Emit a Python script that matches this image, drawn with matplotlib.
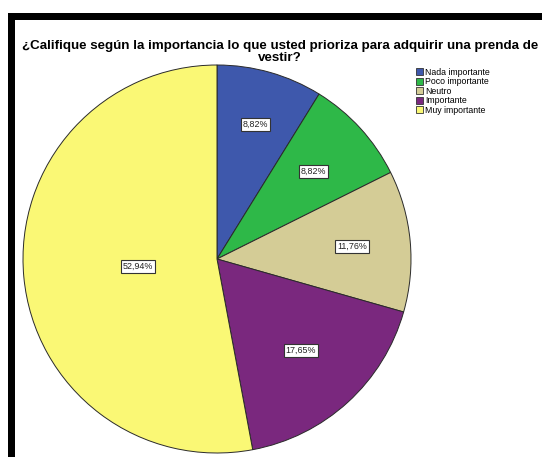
import matplotlib
matplotlib.use("Agg")
import matplotlib.pyplot as plt
from matplotlib.patches import Patch, Rectangle
import math

categories = ["Nada importante", "Poco importante", "Neutro", "Importante", "Muy importante"]
percentages = [8.82, 8.82, 11.76, 17.65, 52.94]
colors = ["#3E58AC", "#2EB848", "#D4CC96", "#7A287E", "#FAF875"]
title = "¿Califique según la importancia lo que usted prioriza para adquirir una prenda de\nvestir?"

plt.rcParams['font.family'] = ['Liberation Sans', 'DejaVu Sans']

W, H = 542, 457
fig = plt.figure(figsize=(W / 100, H / 100), dpi=100)
fig.patch.set_facecolor("white")

# black frame (top and left bands)
fig.add_artist(Rectangle((8 / W, 1 - 19.5 / H), 1, 7 / H, transform=fig.transFigure,
                         facecolor="black", edgecolor="none"))
fig.add_artist(Rectangle((8 / W, 0), 7 / W, 1 - 12.5 / H, transform=fig.transFigure,
                         facecolor="black", edgecolor="none"))

# pie axes
cx, cy, R = 217, 259, 194
ax = fig.add_axes([(cx - R) / W, (H - cy - R) / H, 2 * R / W, 2 * R / H])
wedges, texts, autotexts = ax.pie(
    percentages, colors=colors, startangle=90, counterclock=False,
    autopct=lambda p: "", pctdistance=0.68, radius=1,
    wedgeprops=dict(edgecolor="#2a2a2a", linewidth=0.7))
ax.set_xlim(-1, 1)
ax.set_ylim(-1, 1)
ax.set_aspect("equal")
ax.axis("off")

label_r = [0.72, 0.67, 0.70, 0.64, 0.41]
for w, p, r, t in zip(wedges, percentages, label_r, autotexts):
    ang = math.radians((w.theta1 + w.theta2) / 2)
    t.set_position((r * math.cos(ang), r * math.sin(ang)))
    t.set_text(f"{p:.2f}%".replace(".", ","))
    t.set_fontsize(6.4)
    t.set_color("#222222")
    t.set_bbox(dict(facecolor="white", edgecolor="#333333", linewidth=0.8,
                    boxstyle="square,pad=0.2"))

fig.text(0.517, 1 - 52 / H, title, ha="center", va="center", fontsize=9.6,
         fontweight="bold", linespacing=0.9)

handles = [Patch(facecolor=c, edgecolor="#333333", linewidth=0.6) for c in colors]
fig.legend(handles, categories, loc="upper left", bbox_to_anchor=(416 / W, 1 - 68 / H),
           frameon=False, fontsize=6.3, handlelength=0.85, handleheight=0.85,
           handletextpad=0.15, labelspacing=0.05, borderpad=0, borderaxespad=0)

fig.savefig("out.png", dpi=100)
